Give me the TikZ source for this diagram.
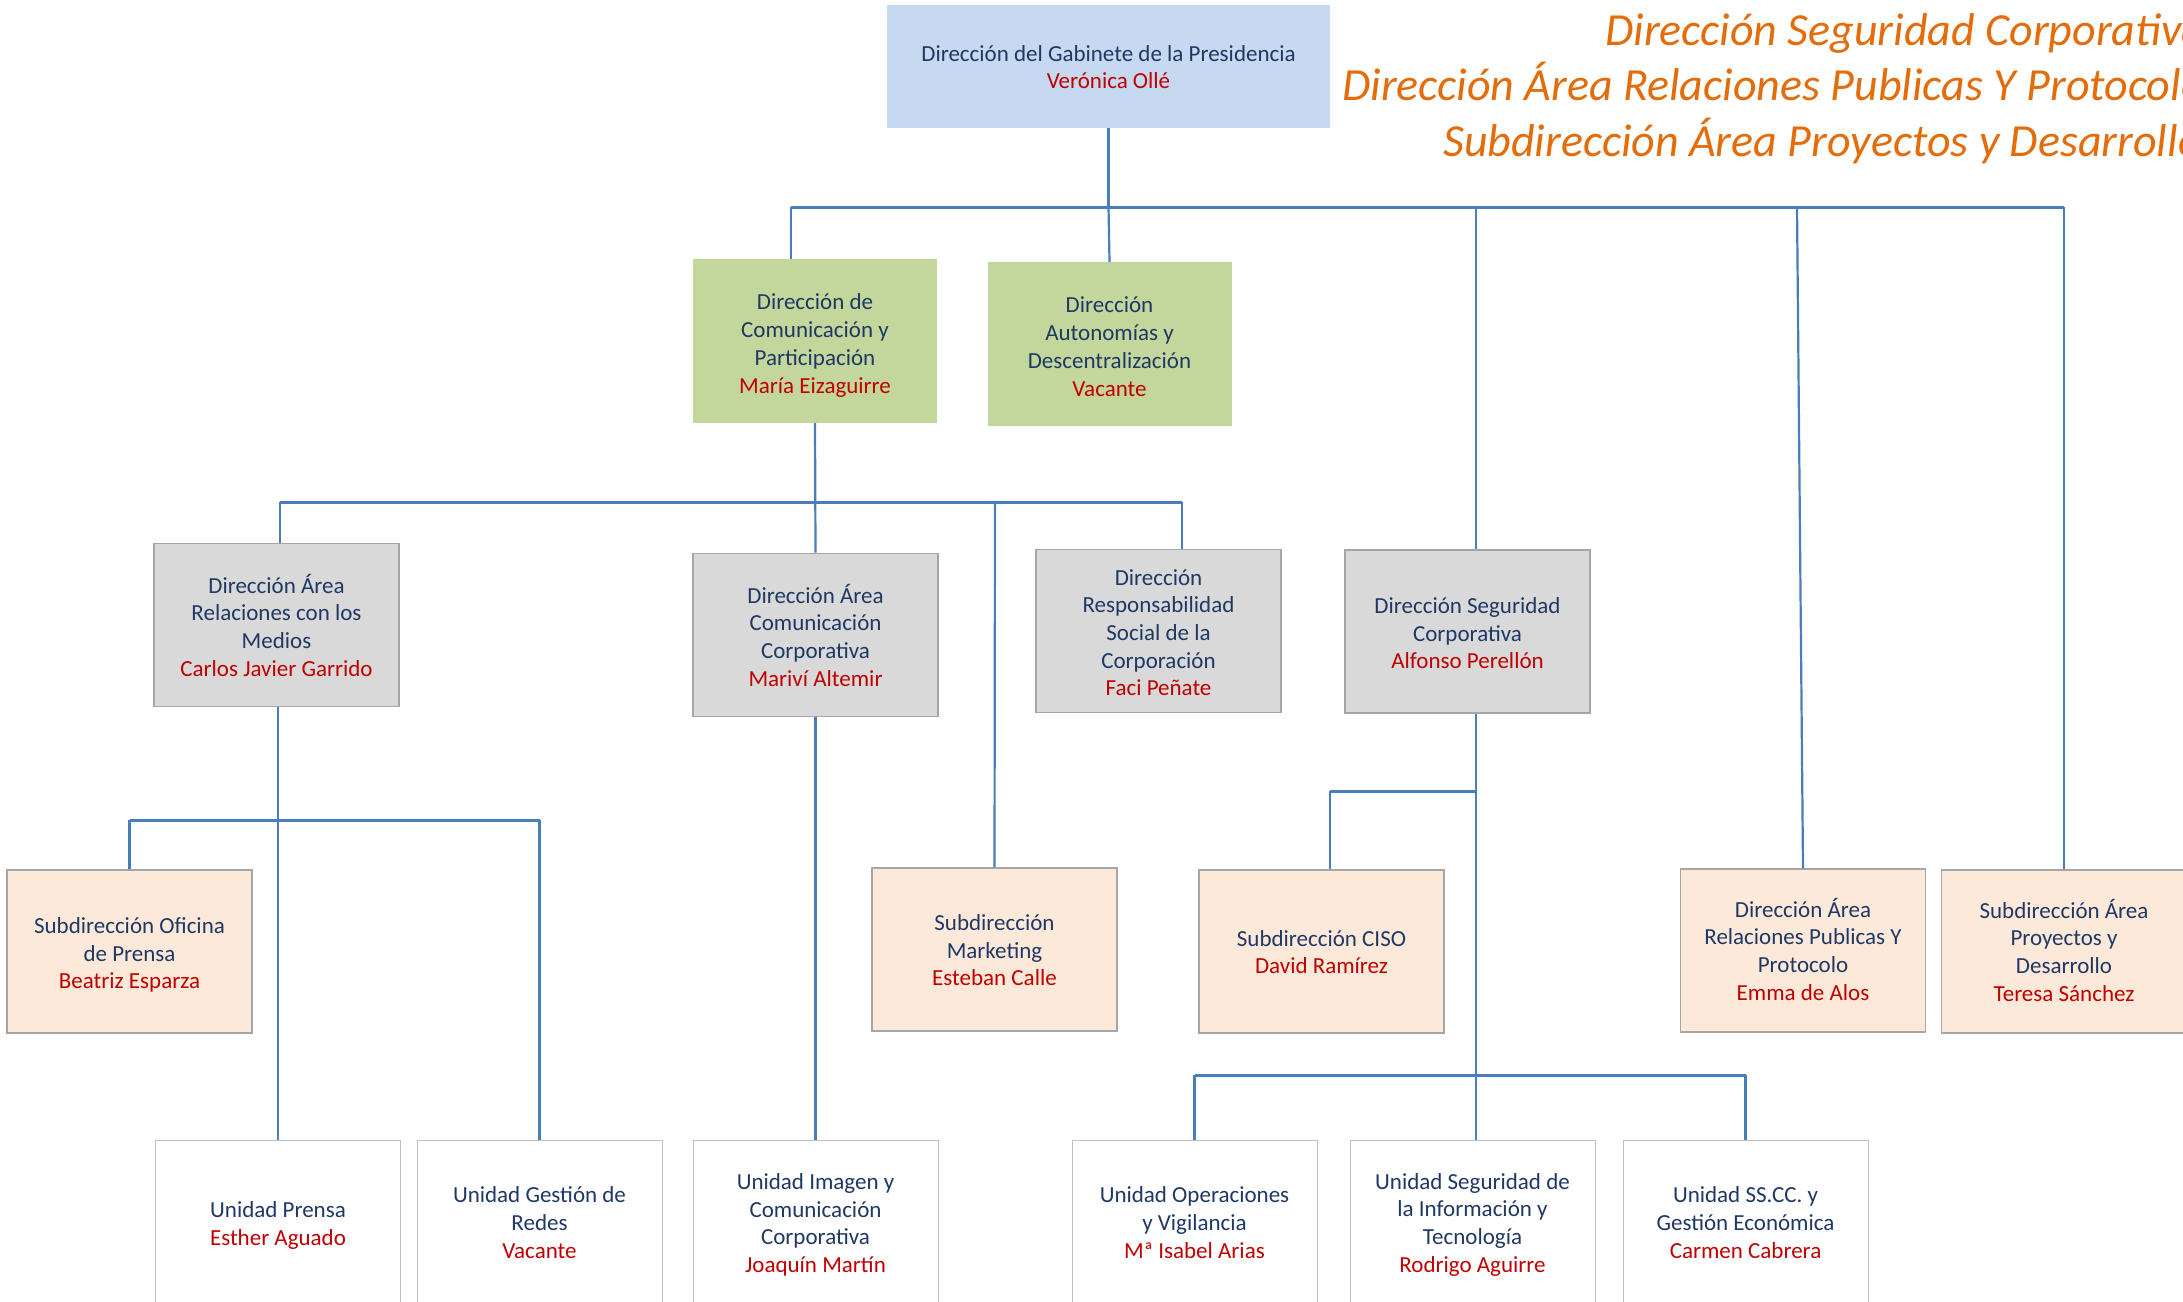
\documentclass[tikz,border=0pt]{standalone}
\usepackage{fontspec}
\setmainfont{Carlito}
\definecolor{navy}{HTML}{1F3864}
\definecolor{rojo}{HTML}{C00000}
\definecolor{lineblue}{HTML}{4A7EBB}
\definecolor{topblue}{HTML}{C6D9F1}
\definecolor{verde}{HTML}{C3D69B}
\definecolor{gris}{HTML}{D9D9D9}
\definecolor{melocoton}{HTML}{FDE9D9}
\definecolor{borde}{HTML}{A6A6A6}
\definecolor{bordeclaro}{HTML}{BFBFBF}
\definecolor{naranja}{HTML}{E46C0A}
\tikzset{
  box/.style={inner sep=0pt, minimum width=245pt, minimum height=163pt, align=center,
    text=navy, font=\fontsize{23}{27.7}\selectfont},
  topbox/.style={box, fill=topblue, minimum width=443pt, minimum height=123pt},
  greenbox/.style={box, fill=verde, minimum width=244pt, minimum height=164pt},
  greybox/.style={box, fill=gris, draw=borde, line width=1.6pt},
  peachbox/.style={box, fill=melocoton, draw=borde, line width=1.1pt},
  whitebox/.style={box, fill=white, draw=bordeclaro, line width=1pt},
  link/.style={draw=lineblue, line width=2.2pt},
  bus/.style={draw=lineblue, line width=3pt},
  orangetext/.style={anchor=base west, inner sep=0pt, text=naranja,
    font=\fontsize{46}{55}\selectfont\itshape}
}
\newcommand{\nm}[1]{\textcolor{rojo}{#1}}
\newcommand{\tx}[2]{\raisebox{-#1pt}[\height][\depth]{\begin{tabular}{@{}c@{}}#2\end{tabular}}}
\begin{document}
\begin{tikzpicture}[x=1pt,y=-1pt]
\useasboundingbox (0,0) rectangle (2183,1301);
% nodes
\node[topbox] (ceo) at (1108.5,66.5) {\tx{3}{Dirección del Gabinete de la Presidencia\\\nm{Verónica Ollé}}};
\node[greenbox] (g1) at (815,341) {\tx{5}{Dirección de\\Comunicación y\\Participación\\\nm{María Eizaguirre}}};
\node[greenbox] (g2) at (1109.5,344) {\tx{5}{Dirección\\Autonomías y\\Descentralización\\\nm{Vacante}}};
\node[greybox] (d1) at (276.5,625) {\tx{4}{Dirección Área\\Relaciones con los\\Medios\\\nm{Carlos Javier Garrido}}};
\node[greybox] (d2) at (815.5,635) {\tx{4}{Dirección Área\\Comunicación\\Corporativa\\\nm{Mariví Altemir}}};
\node[greybox] (d3) at (1158.5,631) {\tx{4}{Dirección\\Responsabilidad\\Social de la\\Corporación\\\nm{Faci Peñate}}};
\node[greybox] (d4) at (1467.5,631.5) {\tx{4}{Dirección Seguridad\\Corporativa\\\nm{Alfonso Perellón}}};
\node[peachbox] (s1) at (129.5,951.5) {\tx{4}{Subdirección Oficina\\de Prensa\\\nm{Beatriz Esparza}}};
\node[peachbox] (s2) at (994.5,949.5) {\tx{3}{Subdirección\\Marketing\\\nm{Esteban Calle}}};
\node[peachbox] (s3) at (1321.5,951.5) {\tx{3}{Subdirección CISO\\\nm{David Ramírez}}};
\node[peachbox] (s4) at (1803,950.5) {\tx{2.5}{Dirección Área\\Relaciones Publicas Y\\Protocolo\\\nm{Emma de Alos}}};
\node[peachbox] (s5) at (2064,951.5) {\tx{2.5}{Subdirección Área\\Proyectos y\\Desarrollo\\\nm{Teresa Sánchez}}};
\node[whitebox] (u1) at (278,1222) {\tx{4}{Unidad Prensa\\\nm{Esther Aguado}}};
\node[whitebox] (u2) at (539.5,1222) {\tx{3}{Unidad Gestión de\\Redes\\\nm{Vacante}}};
\node[whitebox] (u3) at (815.5,1222) {\tx{3.5}{Unidad Imagen y\\Comunicación\\Corporativa\\\nm{Joaquín Martín}}};
\node[whitebox] (u4) at (1194.5,1222) {\tx{3}{Unidad Operaciones\\y Vigilancia\\\nm{Mª Isabel Arias}}};
\node[whitebox] (u5) at (1472.5,1221.5) {\tx{3.5}{Unidad Seguridad de\\la Información y\\Tecnología\\\nm{Rodrigo Aguirre}}};
\node[whitebox] (u6) at (1745.5,1221.5) {\tx{3.5}{Unidad SS.CC. y\\Gestión Económica\\\nm{Carmen Cabrera}}};
% orange heading texts
\node[orangetext] (t1) at (1605,45) {Dirección Seguridad Corporativa};
\node[orangetext] (t2) at (1342,100) {Dirección Área Relaciones Publicas Y Protocolo};
\node[orangetext] (t3) at (1443,156) {Subdirección Área Proyectos y Desarrollo};
% bus coordinates
\coordinate (b1L) at (791,207);
\coordinate (b1R) at (2064,207);
\coordinate (b1S) at (1476,207);
\coordinate (b1P) at (1797,207);
\coordinate (b2L) at (280,502);
\coordinate (b2R) at (1182,502);
\coordinate (b2M) at (995,502);
\coordinate (b3) at (0,820);
\coordinate (segx) at (1476,0);
\coordinate (b4) at (1330,791);
\coordinate (b5) at (0,1075);
% level 1
\draw[bus] (b1L) -- (b1R);
\draw[link] (ceo.south) -- (ceo.south |- b1L);
\draw[link] (b1L) -- (b1L |- g1.north);
\draw[link] (ceo.south |- b1L) -- (g2.north);
\draw[link] (b1S) -- (b1S |- d4.north);
\draw[link] (b1P) -- (s4.north);
\draw[link] (b1R) -- (s5.north);
% level 2 (comunicacion)
\draw[bus] (b2L) -- (b2R);
\draw[link] (g1.south) -- (d2.north);
\draw[link] (b2L) -- (b2L |- d1.north);
\draw[link] (b2R) -- (b2R |- d3.north);
\draw[link] (b2M) -- (s2.north);
% medios
\draw[link] (u1.north |- d1.south) -- (u1.north);
\draw[bus] (s1.north |- b3) -- (u2.north |- b3);
\draw[link] (s1.north |- b3) -- (s1.north);
\draw[link] (u2.north |- b3) -- (u2.north);
% comunicacion corporativa
\draw[link] (d2.south) -- (u3.north);
% seguridad
\draw[link] (segx |- d4.south) -- (segx |- u5.north);
\draw[bus] (b4) -- (segx |- b4);
\draw[link] (b4) -- (b4 |- s3.north);
\draw[bus] (u4.north |- b5) -- (u6.north |- b5);
\draw[link] (u4.north |- b5) -- (u4.north);
\draw[link] (u6.north |- b5) -- (u6.north);
\end{tikzpicture}
\end{document}
